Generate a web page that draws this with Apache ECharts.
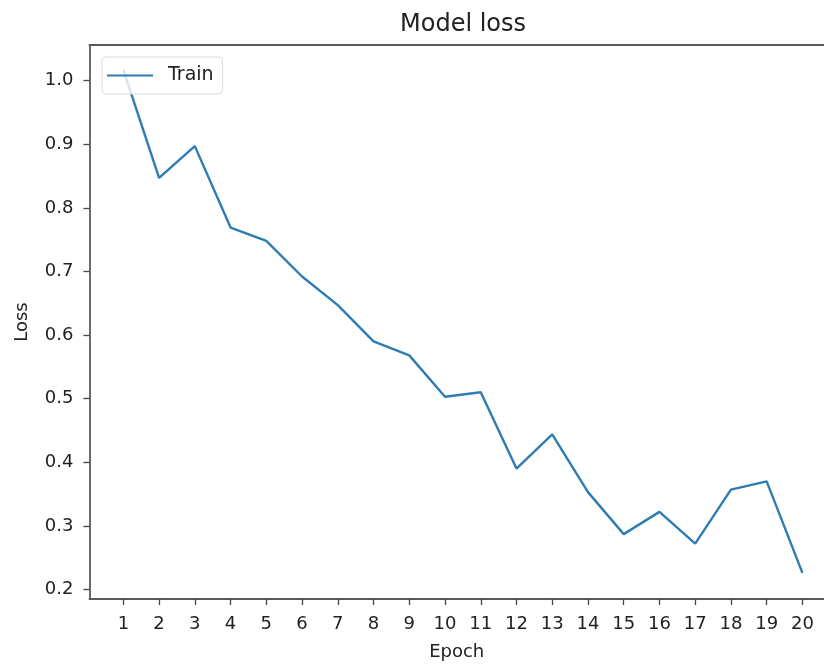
<!DOCTYPE html>
<html>
<head>
<meta charset="utf-8">
<script src="https://cdn.jsdelivr.net/npm/echarts@6/dist/echarts.min.js"></script>
<style>
html,body{margin:0;padding:0;background:#fff;}
#chart{width:824px;height:666px;}
</style>
</head>
<body>
<div id="chart"></div>
<script>
var epochs = [1,2,3,4,5,6,7,8,9,10,11,12,13,14,15,16,17,18,19,20];
var trainLoss = [1.017,0.847,0.897,0.769,0.748,0.692,0.647,0.590,0.568,0.503,0.510,0.390,0.444,0.353,0.287,0.322,0.272,0.357,0.370,0.226];
var yTicks = [0.2,0.3,0.4,0.5,0.6,0.7,0.8,0.9,1.0];
var xTicks = epochs;

var font = 'DejaVu Sans';
var spine = {show: true, lineStyle: {color: '#5a5a5a', width: 1.8}};
var xMin = 0.05, xMax = 20.604;
var chart = echarts.init(document.getElementById('chart'), null, {renderer:'canvas'});
chart.setOption({
  animation: false,
  backgroundColor: '#fff',
  title: {
    text: 'Model loss', left: 400, top: 13, padding: 0,
    textStyle: {fontFamily: font, fontSize: 24, fontWeight: 'normal', color: '#222'}
  },
  legend: {
    data: ['Train'], left: 102, top: 57, orient: 'vertical',
    icon: 'rect', itemWidth: 46, itemHeight: 2, itemGap: 5,
    padding: [9, 9, 9, 5],
    backgroundColor: 'rgba(255,255,255,0.8)', borderColor: '#ddd', borderWidth: 1, borderRadius: 4,
    textStyle: {fontFamily: font, fontSize: 19, color: '#222', padding: [0,0,0,10]}
  },
  grid: {left: 89.4, right: 0, top: 45, bottom: 63.3, show: false, containLabel: false},
  xAxis: [{
    type: 'value', min: xMin, max: xMax,
    name: 'Epoch', nameLocation: 'middle', nameGap: 44,
    nameTextStyle: {fontFamily: font, fontSize: 18, color: '#222', align: 'center'},
    axisLine: spine,
    axisTick: {show: true, length: 6, inside: false, customValues: xTicks, lineStyle: {color: '#444', width: 1.3}},
    axisLabel: {customValues: xTicks, fontFamily: font, fontSize: 18, color: '#222', margin: 16},
    splitLine: {show: false}
  }, {
    type: 'value', position: 'top', min: xMin, max: xMax,
    axisLine: spine, axisTick: {show: false}, axisLabel: {show: false}, splitLine: {show: false}
  }],
  yAxis: {
    type: 'value', min: 0.185, max: 1.056,
    name: 'Loss', nameLocation: 'middle', nameGap: 58, nameRotate: 90,
    nameTextStyle: {fontFamily: font, fontSize: 18, color: '#222'},
    axisLine: spine,
    axisTick: {show: true, length: 6, customValues: yTicks, lineStyle: {color: '#444', width: 1.3}},
    axisLabel: {customValues: yTicks, fontFamily: font, fontSize: 18, color: '#222', margin: 16,
      formatter: function(v){ return v.toFixed(1); }},
    splitLine: {show: false}
  },
  series: [{
    name: 'Train', type: 'line', xAxisIndex: 0,
    data: epochs.map(function(e,i){ return [e, trainLoss[i]]; }),
    showSymbol: false, symbol: 'none',
    lineStyle: {color: '#2f7cb2', width: 2.4},
    itemStyle: {color: '#2f7cb2'},
    z: 1
  }]
});
</script>
</body>
</html>
